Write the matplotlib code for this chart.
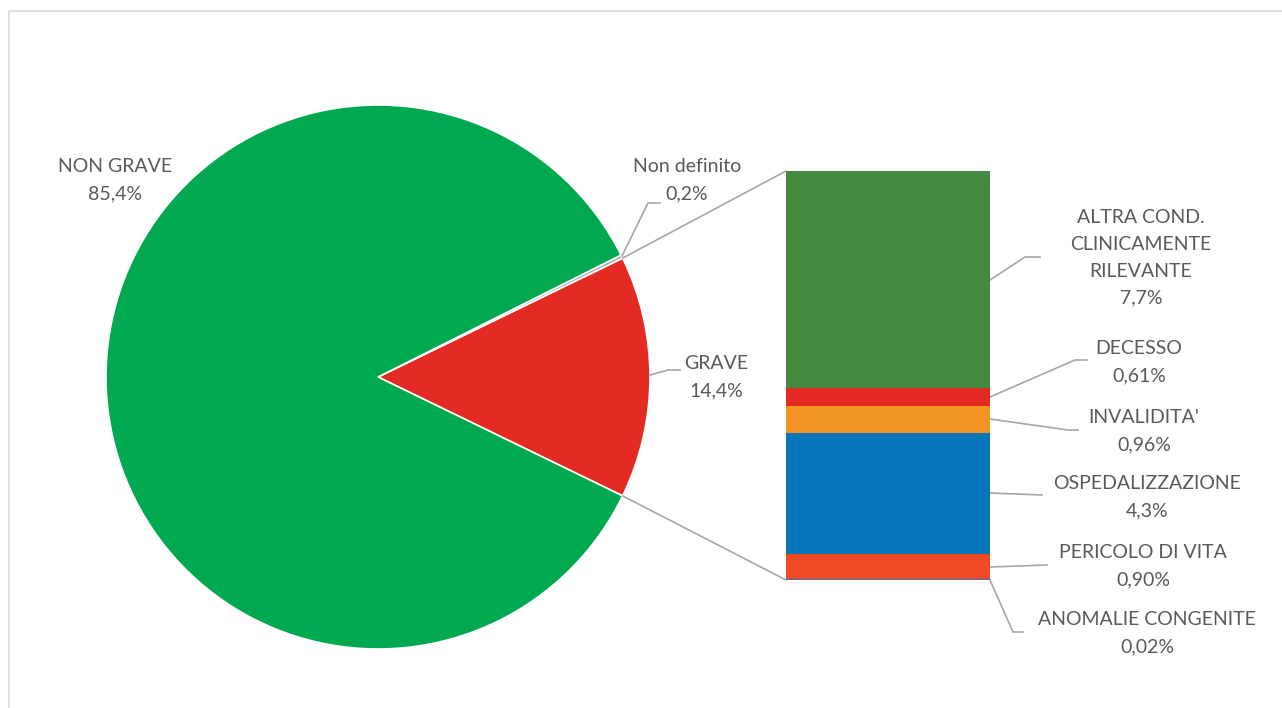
import numpy as np
import matplotlib
matplotlib.use("Agg")
import matplotlib.pyplot as plt
from matplotlib.patches import ConnectionPatch

W, H = 1282, 708

# pie data
pie_labels = ["GRAVE", "Non definito", "NON GRAVE"]
pie_values = [14.4, 0.2, 85.4]
pie_text = ["14,4%", "0,2%", "85,4%"]
pie_colors = ["#E32B24", "#A5A5A5", "#00A850"]

# bar (breakdown of GRAVE), bottom to top
bar_labels = ["ANOMALIE CONGENITE", "PERICOLO DI VITA", "OSPEDALIZZAZIONE",
              "INVALIDITA'", "DECESSO", "ALTRA COND.\nCLINICAMENTE\nRILEVANTE"]
bar_values = [0.02, 0.90, 4.3, 0.96, 0.61, 7.7]
bar_text = ["0,02%", "0,90%", "4,3%", "0,96%", "0,61%", "7,7%"]
bar_colors = ["#4472C4", "#EE4A23", "#0A75BB", "#F29423", "#E32B24", "#43893F"]

txt_color = "#595959"
line_color = "#A6A6A6"
plt.rcParams['font.family'] = ['Lato', 'DejaVu Sans']

fig = plt.figure(figsize=(W / 100, H / 100), dpi=100)
ax = fig.add_axes([0, 0, 1, 1])


def px(x, y):
    return (x, H - y)


# frame
ax.plot([9, 9, W], [0, H - 11, H - 11], color="#D9D9D9", lw=1.2)

# pie
cx, cy = px(378, 377)
r = 272
start = -pie_values[0] * 3.6 / 2
wedges, _ = ax.pie(pie_values, colors=pie_colors, startangle=start, center=(cx, cy),
                   radius=r, wedgeprops=dict(edgecolor="white", linewidth=1.2),
                   frame=True)
ax.set_xlim(0, W)
ax.set_ylim(0, H)
ax.set_aspect("equal")
ax.axis("off")

# bar
bx0, bx1, by0, by1 = 786, 990, 171, 580
ax2 = fig.add_axes([bx0 / W, (H - by1) / H, (bx1 - bx0) / W, (by1 - by0) / H])
bottoms = np.concatenate([[0], np.cumsum(bar_values)[:-1]])
ax2.bar(0, bar_values, bottom=bottoms, width=1, color=bar_colors, linewidth=0)
ax2.set_xlim(-0.5, 0.5)
ax2.set_ylim(0, sum(bar_values))
ax2.axis("off")

# connector lines pie -> bar
g = wedges[0]
for ang, yb in [(g.theta2, sum(bar_values)), (g.theta1, 0)]:
    a = np.deg2rad(ang)
    p = (cx + r * np.cos(a), cy + r * np.sin(a))
    con = ConnectionPatch(xyA=p, coordsA=ax.transData, xyB=(-0.5, yb),
                          coordsB=ax2.transData, color=line_color, lw=1.2)
    fig.add_artist(con)


def label(x, y, s, leader=None):
    ax.text(*px(x, y), s, ha="center", va="center", color=txt_color,
            fontsize=14, linespacing=1.7)
    if leader:
        xs, ys = zip(*[px(a, b) for a, b in leader])
        ax.plot(xs, ys, color=line_color, lw=1.2)


label(115, 180, pie_labels[2] + "\n" + pie_text[2])
label(687, 180, pie_labels[1] + "\n" + pie_text[1], [(622, 256), (648, 203), (660, 203)])
label(716, 377, pie_labels[0] + "\n" + pie_text[0], [(650, 375), (668, 370), (680, 370)])

bar_pos = [(1147, 633), (1143, 566), (1147, 497), (1144, 431), (1139, 362), (1141, 258)]
leaders = [
    [(990, 580), (1013, 632), (1023, 632)],
    [(990, 567), (1047, 565)],
    [(990, 493), (1042, 495)],
    [(990, 419), (1068, 430), (1078, 430)],
    [(990, 397), (1075, 360), (1087, 360)],
    [(990, 280), (1025, 257), (1040, 257)],
]
for (x, y), name, t, ld in zip(bar_pos, bar_labels, bar_text, leaders):
    label(x, y, name + "\n" + t, ld)

fig.savefig("out.png", dpi=100)
